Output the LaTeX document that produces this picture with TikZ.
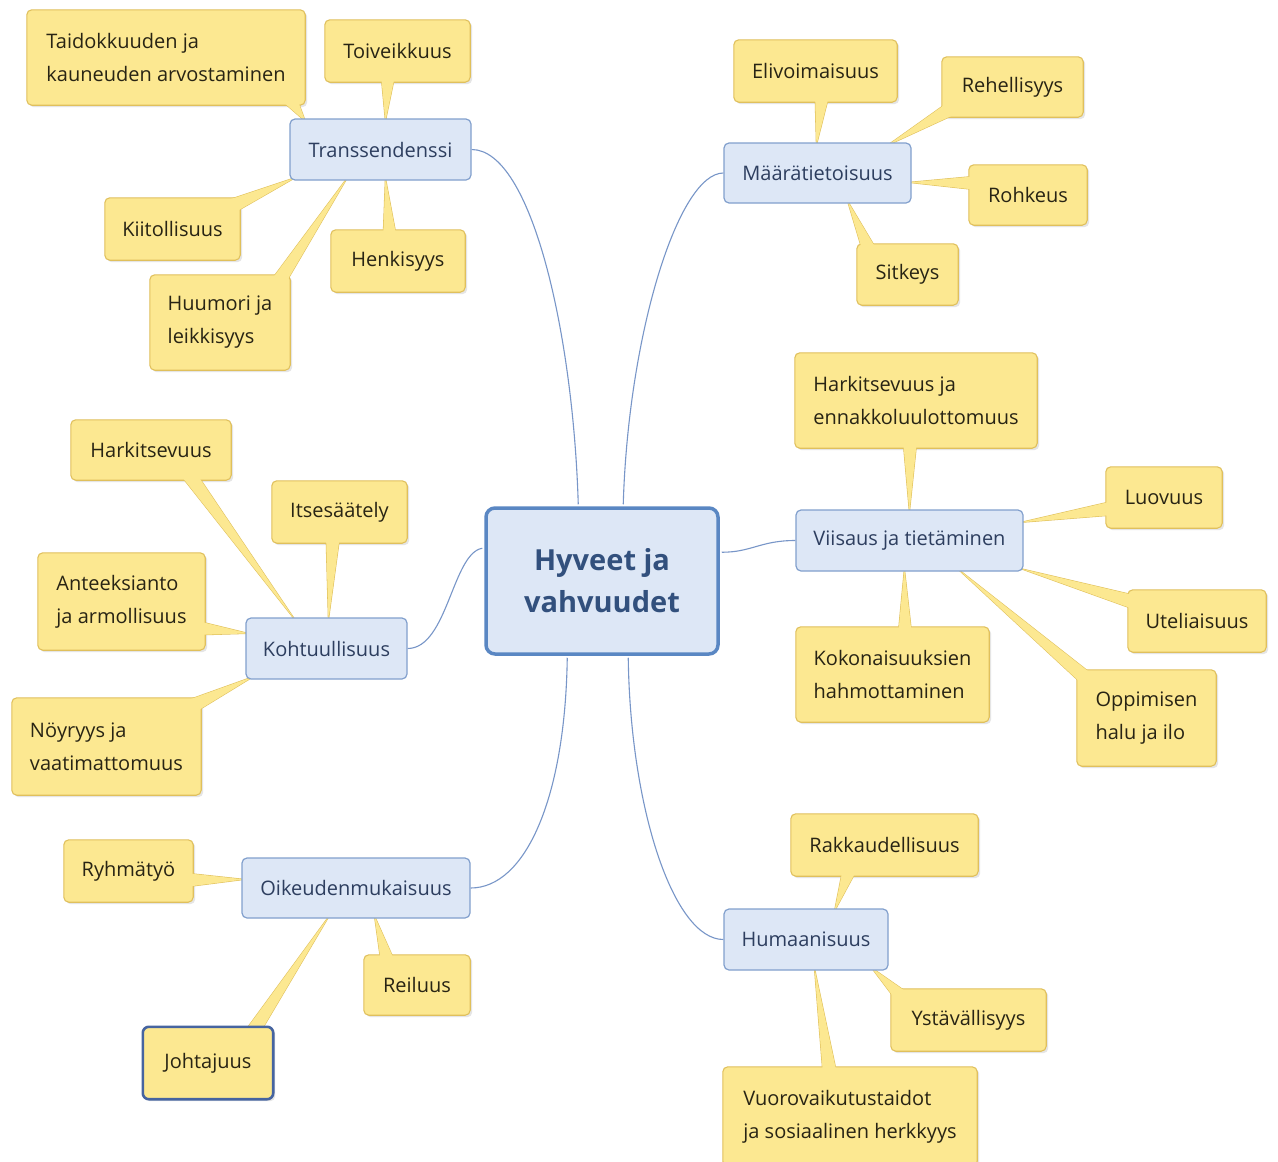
\documentclass[tikz,border=0pt]{standalone}
\usepackage{fontspec}
\setmainfont{Open Sans}
\usetikzlibrary{calc}
\definecolor{yfill}{RGB}{252,232,145}
\definecolor{ybord}{RGB}{224,192,92}
\definecolor{bfill}{RGB}{221,231,246}
\definecolor{bbord}{RGB}{130,160,205}
\definecolor{btext}{RGB}{45,62,95}
\definecolor{ytext}{RGB}{40,36,20}
\definecolor{cbord}{RGB}{90,135,195}
\definecolor{ctextc}{RGB}{50,80,125}
\definecolor{linkc}{RGB}{120,150,200}
\definecolor{jbord}{RGB}{70,100,160}
\pgfdeclarelayer{bg}
\pgfdeclarelayer{shadow}
\pgfdeclarelayer{wedgeback}
\pgfdeclarelayer{boxes}
\pgfdeclarelayer{wedgefront}
\pgfsetlayers{bg,shadow,wedgeback,boxes,wedgefront,main}
\tikzset{
  ctxt/.style={inner sep=0pt, align=left, text=ytext, font=\fontsize{20}{33}\selectfont},
  ybox/.style={fill=yfill, draw=ybord, line width=1.1pt, rounded corners=5pt},
  wedgeb/.style={fill=yfill, draw=ybord, line width=1.1pt, line join=round},
  wedgef/.style={fill=yfill},
  shad/.style={fill=black!10, rounded corners=5pt},
  bnode/.style={inner sep=0pt, fill=bfill, draw=bbord, line width=1.2pt, rounded corners=5pt, text=btext, font=\fontsize{20}{33}\selectfont},
  cnode/.style={inner sep=0pt, fill=bfill, draw=cbord, line width=3.5pt, rounded corners=9pt, text=ctextc, align=center, font=\fontsize{29}{42}\selectfont\bfseries},
  link/.style={draw=linkc, line width=1.1pt}
}
% #1 name, #2 x, #3 y, #4 w, #5 h, #6 text, #7 tip, #8 base
\newcommand\callbox[8]{%
  \node[ctxt, minimum width=#4, minimum height=#5] (#1) at (#2,#3) {#6};
  \coordinate (#1-tip) at (#7);
  \coordinate (#1-base) at (#8);
  \begin{pgfonlayer}{shadow}
    \path[shad] ([shift={(2pt,-2pt)}]#1.south west) rectangle ([shift={(2pt,-2pt)}]#1.north east);
  \end{pgfonlayer}
  \begin{pgfonlayer}{wedgeback}
    \path[wedgeb] (#1-tip) -- ($(#1-base)!7pt!90:(#1-tip)$) -- ($(#1-base)!7pt!-90:(#1-tip)$) -- cycle;
  \end{pgfonlayer}
  \begin{pgfonlayer}{boxes}
    \path[ybox] (#1.south west) rectangle (#1.north east);
  \end{pgfonlayer}
  \begin{pgfonlayer}{wedgefront}
    \path[wedgef] (#1-tip) -- ($(#1-base)!7pt!90:(#1-tip)$) -- ($(#1-base)!7pt!-90:(#1-tip)$) -- cycle;
  \end{pgfonlayer}
}
\begin{document}
\begin{tikzpicture}[x=1pt,y=-1pt]
\begin{pgfonlayer}{bg}
  \fill[white] (0,0) rectangle (1278,1162);
\end{pgfonlayer}
\useasboundingbox (0,0) rectangle (1278,1162);

% central and branch nodes
\node[cnode, minimum width=232, minimum height=146] (C) at (602,581) {Hyveet ja\\vahvuudet};
\node[bnode, minimum width=181, minimum height=61] (T) at (380.5,149.5) {Transsendenssi};
\node[bnode, minimum width=187, minimum height=60] (M) at (817.5,173) {Määrätietoisuus};
\node[bnode, minimum width=227, minimum height=61] (V) at (909.5,540.5) {Viisaus ja tietäminen};
\node[bnode, minimum width=161, minimum height=61] (K) at (326.5,648.5) {Kohtuullisuus};
\node[bnode, minimum width=228, minimum height=60] (O) at (356,888) {Oikeudenmukaisuus};
\node[bnode, minimum width=164, minimum height=61] (H) at (806,939.5) {Humaanisuus};

% connectors from centre
\begin{pgfonlayer}{wedgeback}
\draw[link] (T.east) .. controls +(60,0) and +(-5,-170) .. ($(C.north west)+(94,-2)$);
\draw[link] (M.west) .. controls +(-45,0) and +(5,-170) .. ($(C.north west)+(139,-2)$);
\draw[link] (V.west) .. controls +(-35,0) and +(30,0) .. ($(C.north east)+(2,46)$);
\draw[link] (K.east) .. controls +(40,0) and +(-30,5) .. ($(C.north west)+(-2,42)$);
\draw[link] (O.east) .. controls +(55,0) and +(-2,140) .. ($(C.south west)+(83,2)$);
\draw[link] (H.west) .. controls +(-50,0) and +(2,150) .. ($(C.south west)+(144,2)$);
\end{pgfonlayer}

% Transsendenssi
\callbox{taid}{166}{57.5}{278}{95}{Taidokkuuden ja\\kauneuden arvostaminen}{$(T.north west)+(16,3)$}{290,99}
\callbox{toiv}{397.5}{51}{145}{62}{Toiveikkuus}{$(T.north west)+(96,3)$}{388,75}
\callbox{kiit}{172.5}{229}{135}{62}{Kiitollisuus}{$(T.south west)+(6,-3)$}{232,206}
\callbox{huum}{220}{322.5}{140}{95}{Huumori ja\\leikkisyys}{$(T.south west)+(58,-3)$}{277,284}
\callbox{henk}{398}{261}{134}{62}{Henkisyys}{$(T.south west)+(96,-3)$}{390,240}

% Maaratietoisuus
\callbox{eliv}{815.5}{71}{163}{62}{Elivoimaisuus}{$(M.north west)+(93,3)$}{822,95}
\callbox{rehe}{1012.5}{87}{141}{60}{Rehellisyys}{$(M.north west)+(164,3)$}{952,108}
\callbox{rohk}{1028}{195}{118}{60}{Rohkeus}{$(M.north east)+(-3,40)$}{978,183}
\callbox{sitk}{907.5}{274.5}{101}{61}{Sitkeys}{$(M.south west)+(124,-3)$}{870,252}

% Viisaus
\callbox{harkja}{916}{400.5}{242}{95}{Harkitsevuus ja\\ennakkoluulottomuus}{$(V.north west)+(114,3)$}{910,440}
\callbox{luov}{1164}{497.5}{116}{61}{Luovuus}{$(V.north east)+(-3,13)$}{1114,508}
\callbox{utel}{1197}{621}{138}{62}{Uteliaisuus}{$(V.south east)+(-3,-3)$}{1137,603}
\callbox{oppi}{1146.5}{718}{139}{96}{Oppimisen\\halu ja ilo}{$(V.south west)+(162,-3)$}{1088,680}
\callbox{koko}{892.5}{674.5}{193}{95}{Kokonaisuuksien\\hahmottaminen}{$(V.south west)+(109,-3)$}{905,636}

% Kohtuullisuus
\callbox{hark}{151}{450}{160}{60}{Harkitsevuus}{$(K.north west)+(50,3)$}{187,472}
\callbox{itse}{339.5}{512}{135}{62}{Itsesäätely}{$(K.north west)+(83,3)$}{333,535}
\callbox{ante}{121.5}{601.5}{167}{97}{Anteeksianto\\ja armollisuus}{$(K.north west)+(3,16)$}{197,628}
\callbox{noyr}{106.5}{746.5}{189}{97}{Nöyryys ja\\vaatimattomuus}{$(K.south west)+(8,-3)$}{192,706}

% Oikeudenmukaisuus
\callbox{ryhm}{128.5}{871}{129}{62}{Ryhmätyö}{$(O.north west)+(3,22)$}{185,880}
\callbox{reil}{417}{985}{106}{60}{Reiluus}{$(O.south west)+(133,-3)$}{388,963}
\callbox{joht}{208}{1063}{130}{72}{Johtajuus}{$(O.south west)+(88,-3)$}{250,1036}
\draw[draw=jbord, line width=2.6pt, rounded corners=6pt] (joht.south west) rectangle (joht.north east);

% Humaanisuus
\callbox{rakk}{884.5}{845}{187}{62}{Rakkaudellisuus}{$(H.north west)+(111,3)$}{850,868}
\callbox{ysta}{968.5}{1020}{155}{62}{Ystävällisyys}{$(H.south west)+(148,-3)$}{903,998}
\callbox{vuor}{850}{1116.5}{254}{99}{Vuorovaikutustaidot\\ja sosiaalinen herkkyys}{$(H.south west)+(91,-3)$}{830,1075}
\end{tikzpicture}
\end{document}
